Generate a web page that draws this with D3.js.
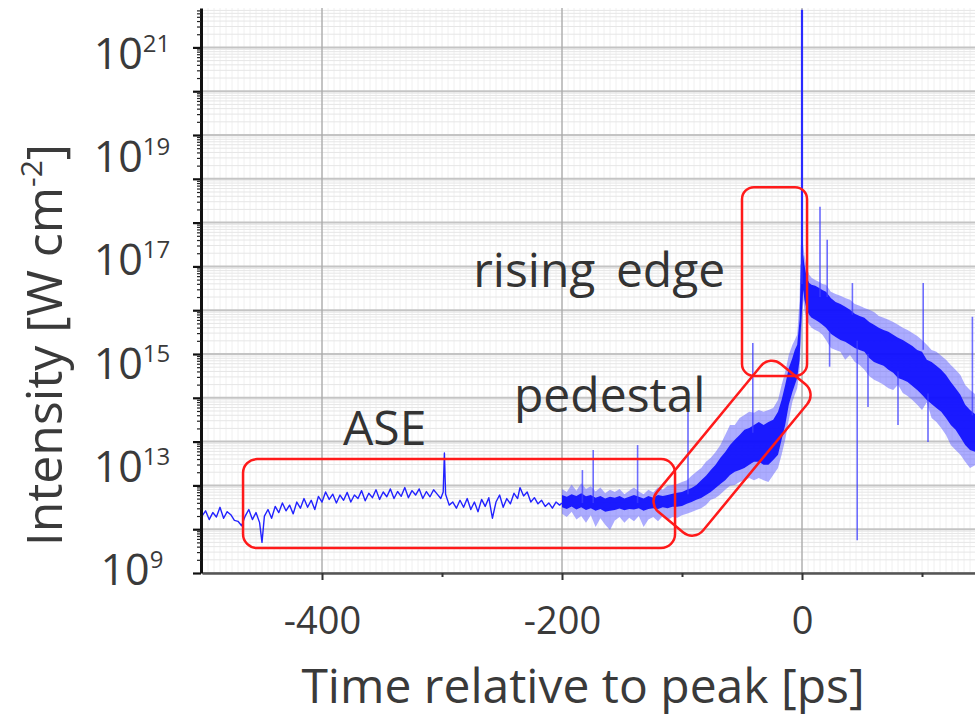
<!DOCTYPE html>
<html><head><meta charset="utf-8">
<script src="https://cdn.jsdelivr.net/npm/d3@7"></script>
<style>body{margin:0;background:#fff} svg{display:block} text{font-family:"Open Sans",sans-serif;}</style>
</head><body><svg id="c" width="975" height="720"></svg>
<script>
// ---------- data (time in ps, intensity as log10 of W cm^-2) ----------
const aseTime = [-500,-497,-494,-491,-488,-485,-482,-479,-476,-473,-470,-467,-464,-461,-458,-455,-452,-450,-448,-445,-442,-439,-436,-433,-430,-427,-424,-421,-418,-415,-412,-409,-406,-403,-400,-397,-394,-391,-388,-385,-382,-379,-376,-373,-370,-367,-364,-361,-358,-355,-352,-349,-346,-343,-340,-337,-334,-331,-328,-325,-322,-319,-316,-313,-310,-307,-304,-301,-299,-298,-297,-294,-291,-288,-285,-282,-279,-276,-273,-270,-267,-264,-261,-258,-255,-252,-249,-246,-243,-240,-237,-235,-232,-229,-226,-223,-220,-217,-214,-211,-208,-205,-202,-200];
const aseLogI = [10.30,10.42,10.22,10.38,10.28,10.50,10.25,10.40,10.33,10.20,10.18,10.08,10.30,10.45,10.22,10.38,10.15,9.70,10.30,10.45,10.25,10.52,10.38,10.60,10.42,10.55,10.35,10.62,10.48,10.70,10.50,10.66,10.45,10.75,10.62,10.85,10.68,10.80,10.60,10.78,10.66,10.84,10.62,10.78,10.70,10.88,10.65,10.82,10.72,10.90,10.68,10.85,10.74,10.92,10.70,10.86,10.75,10.95,10.72,10.88,10.78,10.92,10.70,10.86,10.74,10.90,10.80,10.70,10.85,11.74,10.80,10.55,10.62,10.48,10.66,10.50,10.70,10.45,10.62,10.40,10.68,10.52,10.72,10.25,10.62,10.78,10.50,10.70,10.58,10.82,10.70,10.95,10.76,10.85,10.62,10.72,10.58,10.66,10.52,10.60,10.48,10.62,10.55,10.60];

const bandTime = [-200,-196,-192,-188,-184,-180,-176,-172,-168,-164,-160,-156,-152,-148,-144,-140,-136,-132,-128,-124,-120,-116,-112,-108,-104,-100,-96,-92,-88,-84,-80,-76,-72,-68,-64,-60,-56,-52,-48,-44,-40,-36,-32,-28,-24,-20,-17,-14,-11,-8,-6,-4,-2,-1,1,2,4,6,8,11,14,17,20,24,28,32,36,40,44,48,52,56,60,64,68,72,76,80,84,88,92,96,100,104,108,112,116,120,124,128,132,136,140,145];
const outerHi = [10.92,10.85,11.02,10.88,11.05,10.92,10.98,10.86,10.95,10.82,10.90,10.85,10.92,10.80,10.88,10.95,10.86,10.80,10.90,10.84,10.96,10.90,10.99,11.01,11.03,11.08,11.12,11.22,11.31,11.40,11.54,11.63,11.76,11.92,12.15,12.38,12.38,12.54,12.61,12.68,12.66,12.72,12.68,12.72,12.77,12.95,13.29,13.59,13.98,14.21,14.32,14.44,15.24,16.49,16.49,16.26,15.97,15.81,15.74,15.69,15.65,15.60,15.58,15.42,15.37,15.33,15.28,15.24,15.14,15.10,15.05,15.01,14.96,14.87,14.83,14.78,14.73,14.67,14.60,14.55,14.48,14.41,14.32,14.21,14.09,14.05,13.96,13.87,13.75,13.64,13.52,13.29,13.18,13.07];
const outerLo = [10.35,10.28,10.40,10.22,10.30,10.15,10.32,10.05,10.25,10.10,9.98,10.20,10.28,10.15,10.26,10.18,10.30,10.05,10.22,10.28,10.18,10.30,10.21,10.28,10.26,10.32,10.35,10.39,10.44,10.48,10.55,10.67,10.71,10.80,10.90,10.99,11.01,11.08,11.12,11.17,11.12,11.17,11.12,11.08,11.24,11.40,11.70,12.04,12.50,12.91,13.07,13.22,13.64,14.21,15.24,15.01,14.78,14.67,14.60,14.55,14.51,14.44,14.32,14.14,14.09,14.05,13.87,13.98,13.82,13.75,13.64,13.50,13.41,13.36,13.30,13.22,13.18,13.30,13.11,13.04,12.95,12.84,12.72,12.90,12.54,12.45,12.31,12.15,11.92,11.81,11.70,11.54,11.40,11.47];
const coreHi = [10.78,10.74,10.80,10.76,10.82,10.75,10.78,10.72,10.76,10.70,10.74,10.72,10.76,10.70,10.74,10.78,10.74,10.70,10.76,10.72,10.78,10.76,10.78,10.81,10.83,10.85,10.90,10.94,11.01,11.12,11.22,11.35,11.47,11.63,11.76,11.92,12.04,12.15,12.27,12.31,12.38,12.45,12.38,12.45,12.50,12.68,12.95,13.29,13.68,13.91,14.09,14.21,14.78,16.04,16.26,16.04,15.74,15.62,15.58,15.56,15.51,15.46,15.42,15.28,15.19,15.14,15.08,15.01,14.92,14.87,14.83,14.73,14.67,14.60,14.55,14.51,14.44,14.37,14.32,14.25,14.18,14.09,14.05,13.87,13.82,13.73,13.64,13.52,13.36,13.22,13.07,12.84,12.72,12.61];
const coreLo = [10.50,10.46,10.52,10.45,10.50,10.44,10.48,10.42,10.46,10.40,10.42,10.44,10.47,10.43,10.46,10.45,10.48,10.42,10.46,10.48,10.46,10.50,10.48,10.51,10.51,10.53,10.58,10.62,10.67,10.71,10.78,10.85,10.94,11.03,11.12,11.24,11.31,11.35,11.40,11.47,11.54,11.54,11.47,11.47,11.58,11.70,12.04,12.38,12.84,13.13,13.29,13.45,13.87,14.55,15.46,15.24,15.01,14.89,14.83,14.78,14.73,14.67,14.60,14.46,14.39,14.32,14.28,14.21,14.14,14.09,14.05,13.91,13.82,13.77,13.73,13.64,13.57,13.45,13.41,13.36,13.27,13.18,13.07,12.95,12.86,12.77,12.68,12.54,12.38,12.27,12.10,11.92,11.81,11.76];

const spikeTime = [-183,-174,-137,-95,-41,15,21,23,42,46,55,80,101,105,142];
const spikeTip  = [11.35,11.81,11.92,12.88,14.25,17.36,16.61,13.71,15.62,9.75,12.79,12.38,15.62,11.99,14.85];
const spikeBase = [10.6,10.6,10.6,10.8,12.2,15.3,15.3,14.5,14.9,14.3,14.0,13.6,14.1,13.1,12.6];

const peakTime = [0];
const peakTop = [21.86];
const peakBase = [15.6];

const xTickValues = [-400,-200,0];
const xTickLabels = ["-400","-200","0"];
const xMinorTicks = [-300,-100,100];
const yTickExp = ["21","19","17","15","13","9"];

// ---------- setup ----------
const svg = d3.select("#c");
const x = d3.scaleLinear().domain([-500,145]).range([202,976]);
const y = d3.scaleLog().domain([1e9, Math.pow(10,21.9)]).range([573, 8]);
const yv = e => y(Math.pow(10,e));
const plotTop = 8, plotBottom = 573, plotLeft = 202, plotRight = 975;

// grid
const majorDecades = d3.range(9,22).map(k=>Math.pow(10,k));
const minorVals = [];
for (let k=9;k<=21;k++) for (let m=2;m<=9;m++){ const v=m*Math.pow(10,k); if (v<Math.pow(10,21.9)) minorVals.push(v); }
const g = svg.append("g");
g.selectAll("line.vmin").data(d3.range(-495,146,5)).join("line")
  .attr("x1",d=>x(d)).attr("x2",d=>x(d)).attr("y1",plotTop).attr("y2",plotBottom)
  .attr("stroke","#f0f0f0").attr("stroke-width",1);
g.selectAll("line.hmin").data(minorVals).join("line")
  .attr("x1",plotLeft).attr("x2",plotRight).attr("y1",d=>y(d)).attr("y2",d=>y(d))
  .attr("stroke","#e6e6e6").attr("stroke-width",1);
g.selectAll("line.hmaj").data(majorDecades).join("line")
  .attr("x1",plotLeft).attr("x2",plotRight).attr("y1",d=>y(d)).attr("y2",d=>y(d))
  .attr("stroke","#c4c4c4").attr("stroke-width",2);
g.selectAll("line.vmaj").data(xTickValues).join("line")
  .attr("x1",d=>x(d)).attr("x2",d=>x(d)).attr("y1",plotTop).attr("y2",plotBottom)
  .attr("stroke","#a8a8a8").attr("stroke-width",1.3);

// ---------- data marks ----------
const idx = d3.range(bandTime.length);
const outerArea = d3.area().x(i=>x(bandTime[i])).y0(i=>yv(outerLo[i])).y1(i=>yv(outerHi[i]));
const coreArea = d3.area().x(i=>x(bandTime[i])).y0(i=>yv(coreLo[i])).y1(i=>yv(coreHi[i]));
svg.append("path").attr("d",outerArea(idx)).attr("fill","#5a5aff").attr("fill-opacity",0.5);
svg.append("path").attr("d",coreArea(idx)).attr("fill","#0a0aff").attr("fill-opacity",0.9);

svg.selectAll("line.spike").data(spikeTime).join("line")
  .attr("x1",d=>x(d)).attr("x2",d=>x(d))
  .attr("y1",(d,i)=>yv(spikeBase[i])).attr("y2",(d,i)=>yv(spikeTip[i]))
  .attr("stroke","#3d3dff").attr("stroke-opacity",0.75).attr("stroke-width",1.6);

svg.selectAll("line.peak").data(peakTime).join("line")
  .attr("x1",d=>x(d)).attr("x2",d=>x(d))
  .attr("y1",(d,i)=>yv(peakBase[i])).attr("y2",(d,i)=>yv(peakTop[i]))
  .attr("stroke","#2a2aff").attr("stroke-width",2.2);

const aseLine = d3.line().x((d,i)=>x(aseTime[i])).y(d=>yv(d));
svg.append("path").attr("d",aseLine(aseLogI)).attr("fill","none")
  .attr("stroke","#2222ff").attr("stroke-width",1.4).attr("stroke-linejoin","round");

// ---------- axes ----------
const xAxis = d3.axisBottom(x).tickValues(xTickValues).tickSize(7).tickSizeOuter(0).tickPadding(27)
  .tickFormat((d,i)=>xTickLabels[i]);
const xa = svg.append("g").attr("transform",`translate(0,${plotBottom})`).call(xAxis);
xa.select(".domain").attr("stroke","#555").attr("stroke-width",2.5);
xa.selectAll(".tick line").attr("stroke","#333").attr("stroke-width",2);
xa.selectAll(".tick text").attr("font-size",38).attr("fill","#3a3a3a").attr("font-family","'Open Sans',sans-serif");
const xMin = d3.axisBottom(x).tickValues(xMinorTicks).tickSize(4).tickFormat("");
const xm = svg.append("g").attr("transform",`translate(0,${plotBottom})`).call(xMin);
xm.select(".domain").remove();
xm.selectAll(".tick line").attr("stroke","#333").attr("stroke-width",2);

const yAxisMaj = d3.axisLeft(y).tickValues(majorDecades).tickSize(8).tickSizeOuter(0).tickFormat("");
const ya = svg.append("g").attr("transform","translate(201,0)").call(yAxisMaj);
ya.select(".domain").attr("stroke","#111").attr("stroke-width",3);
ya.selectAll(".tick line").attr("stroke","#111").attr("stroke-width",2.2);
const yAxisMin = d3.axisLeft(y).tickValues(minorVals).tickSize(4).tickFormat("");
const ym = svg.append("g").attr("transform","translate(201,0)").call(yAxisMin);
ym.select(".domain").remove();
ym.selectAll(".tick line").attr("stroke","#222").attr("stroke-width",1.2);

// y tick labels (placed evenly as in the source figure)
const yLab = d3.scalePoint().domain(yTickExp).range([53,569]);
const yl = svg.selectAll("text.ylab").data(yTickExp).join("text")
  .attr("x",132).attr("y",d=>yLab(d)+16).attr("text-anchor","middle").attr("fill","#3a3a3a");
yl.append("tspan").attr("font-size",43).text("10");
yl.append("tspan").attr("font-size",24).attr("dy",-17).text(d=>d);

// axis titles
svg.append("text").attr("x",583).attr("y",703).attr("text-anchor","middle")
  .attr("font-size",48).attr("fill","#3a3a3a").text("Time relative to peak [ps]");
const yt = svg.append("text").attr("transform","translate(62,345) rotate(-90)")
  .attr("text-anchor","middle").attr("font-size",50).attr("fill","#3a3a3a");
yt.append("tspan").text("Intensity [W cm");
yt.append("tspan").attr("font-size",30).attr("dy",-20).text("-2");
yt.append("tspan").attr("dy",20).text("]");

// ---------- annotations ----------
const red = "#ff1a1a";
svg.append("rect").attr("x",x(-465.8)).attr("y",yv(11.60))
  .attr("width",x(-105.8)-x(-465.8)).attr("height",yv(9.57)-yv(11.60))
  .attr("rx",14).attr("fill","none").attr("stroke",red).attr("stroke-width",2.5);
svg.append("rect").attr("x",x(-50)).attr("y",yv(17.81))
  .attr("width",x(4.2)-x(-50)).attr("height",yv(13.5)-yv(17.81))
  .attr("rx",12).attr("fill","none").attr("stroke",red).attr("stroke-width",2.5);
const pcx = x(-58.3), pcy = yv(11.85);
svg.append("rect").attr("x",-96).attr("y",-30).attr("width",192).attr("height",60)
  .attr("rx",14).attr("fill","none").attr("stroke",red).attr("stroke-width",2.5)
  .attr("transform",`translate(${pcx},${pcy}) rotate(-50.5)`);

const annFont = 48;
svg.append("text").attr("x",x(-382.5)).attr("y",yv(11.92)).attr("font-size",annFont).attr("fill","#333").text("ASE");
svg.append("text").attr("x",x(-240)).attr("y",yv(12.67)).attr("font-size",annFont).attr("fill","#333").text("pedestal");
svg.append("text").attr("x",x(-274)).attr("y",yv(15.53)).attr("font-size",annFont).attr("fill","#333")
  .attr("word-spacing",8).text("rising edge");
</script></body></html>
